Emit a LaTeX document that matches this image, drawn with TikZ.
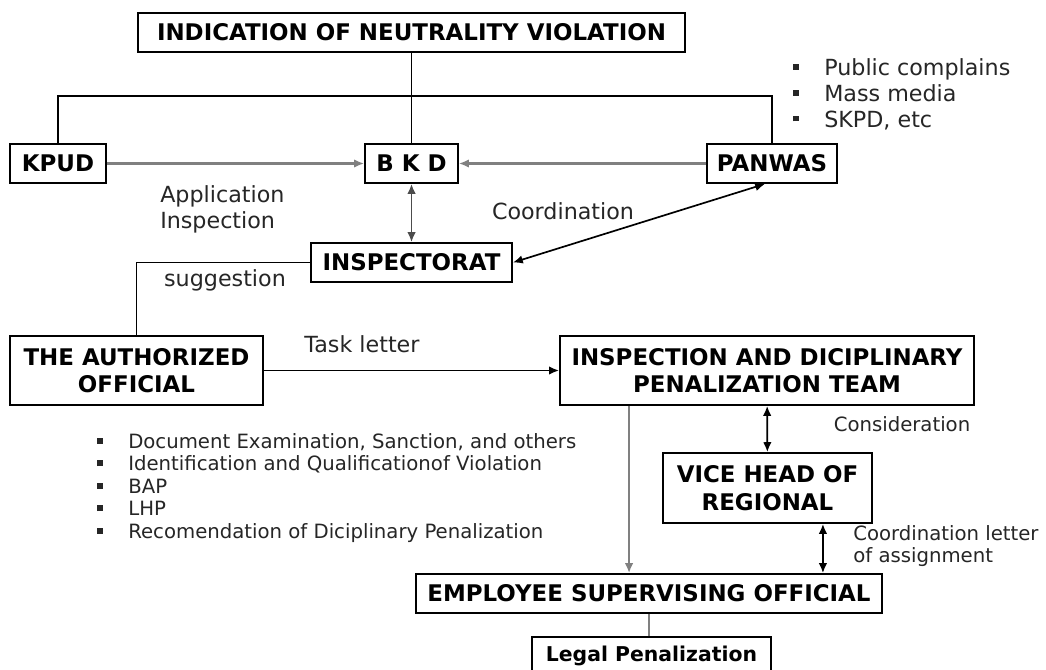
\documentclass[tikz,border=0pt]{standalone}
\usepackage{fontspec}
\setmainfont{DejaVu Sans}
\usetikzlibrary{arrows.meta}

\newcommand{\sqitem}{\makebox[0.775cm][l]{\rule[0.25em]{4pt}{4pt}}}

\begin{document}
\begin{tikzpicture}[x=0.025cm, y=-0.025cm,
    box/.style={draw, line width=1.3pt, inner sep=0pt, align=center,
      font=\fontsize{16.3}{19.5}\selectfont\bfseries},
    lbl/.style={text=black!85, inner sep=0pt, align=left,
      font=\fontsize{15.8}{18.4}\selectfont},
    sml/.style={text=black!85, inner sep=0pt, align=left,
      font=\fontsize{14}{16}\selectfont},
    link/.style={line width=1.2pt},
    greylink/.style={line width=1.6pt, draw=black!50},
    onehead/.style={-{Latex[length=7pt,width=6pt]}},
    twohead/.style={{Latex[length=7pt,width=6pt]}-{Latex[length=7pt,width=6pt]}}]
    \useasboundingbox[fill=white] (0,0) rectangle (1046,670);

    % Top
    \node[box, minimum width=13.675cm, minimum height=0.975cm] (indic) at (411.5,32.5) {INDICATION OF NEUTRALITY VIOLATION};
    \node[lbl, anchor=west] (sources) at (793,94) {\sqitem Public complains\\ \sqitem Mass media\\ \sqitem SKPD, etc};

    % Second row
    \node[box, minimum width=2.4cm, minimum height=0.975cm] (kpud) at (58,163.5) {KPUD};
    \node[box, minimum width=2.325cm, minimum height=0.975cm] (bkd) at (411.5,163.5) {B K D};
    \node[box, minimum width=3.25cm, minimum height=0.975cm] (panwas) at (772,163.5) {PANWAS};
    \coordinate (bus) at (411.5,96);
    \draw[link] (bkd.north) -- (bkd.north |- indic.south);
    \draw[link] (kpud.north) |- (bus) -| (panwas.north);
    \draw[greylink, onehead] (kpud) -- (bkd);
    \draw[greylink, onehead] (panwas) -- (bkd);

    % Inspectorat
    \node[box, minimum width=5.025cm, minimum height=0.975cm] (inspec) at (411.5,262.5) {INSPECTORAT};
    \draw[link, draw=black!70, twohead] (bkd) -- (inspec);
    \draw[link, twohead] (inspec.east) -- ([xshift=-0.175cm]panwas.south);
    \node[lbl, anchor=west] (applic) at (160,209.5) {Application\\Inspection};
    \node[lbl] (coord) at (563,211) {Coordination};
    \node[lbl] (suggest) at (225,280) {suggestion};

    % Authorized official and team
    \node[box, minimum width=6.325cm, minimum height=1.725cm] (auth) at (136.5,370.5) {THE AUTHORIZED\\OFFICIAL};
    \node[box, minimum width=10.35cm, minimum height=1.725cm] (team) at (767,370.5) {INSPECTION AND DICIPLINARY\\PENALIZATION TEAM};
    \draw[link] (inspec.west) -| (auth.north);
    \draw[link, onehead] (auth) -- (team);
    \node[lbl] (task) at (362,344) {Task letter};
    \node[sml, anchor=west] (steps) at (97,488) {\sqitem Document Examination, Sanction, and others\\
      \sqitem Identification and Qualificationof Violation\\
      \sqitem BAP\\
      \sqitem LHP\\
      \sqitem Recomendation of Diciplinary Penalization};

    % Vice head
    \node[box, minimum width=5.225cm, minimum height=1.75cm] (vice) at (767.5,488) {VICE HEAD OF\\REGIONAL};
    \draw[link, twohead] (team) -- (vice);
    \node[sml] (consid) at (902,424) {Consideration};
    \node[sml, anchor=west] (letter) at (853,546) {Coordination letter\\of assignment};

    % Employee supervising official
    \node[box, minimum width=11.65cm, minimum height=0.975cm] (emp) at (649,593.5) {EMPLOYEE SUPERVISING OFFICIAL};
    \draw[greylink, onehead] ([xshift=1.75cm]team.south west) coordinate (t1) -- (t1 |- emp.north);
    \draw[link, twohead] ([xshift=-1.25cm]vice.south east) coordinate (v1) -- (v1 |- emp.north);
    \node[box, minimum width=5.975cm, minimum height=0.95cm, font=\fontsize{14.5}{17}\selectfont\bfseries] (legal) at (651.5,656) {Legal Penalization};
    \draw[greylink] (legal.north -| emp.south) -- (emp.south);
\end{tikzpicture}
\end{document}
